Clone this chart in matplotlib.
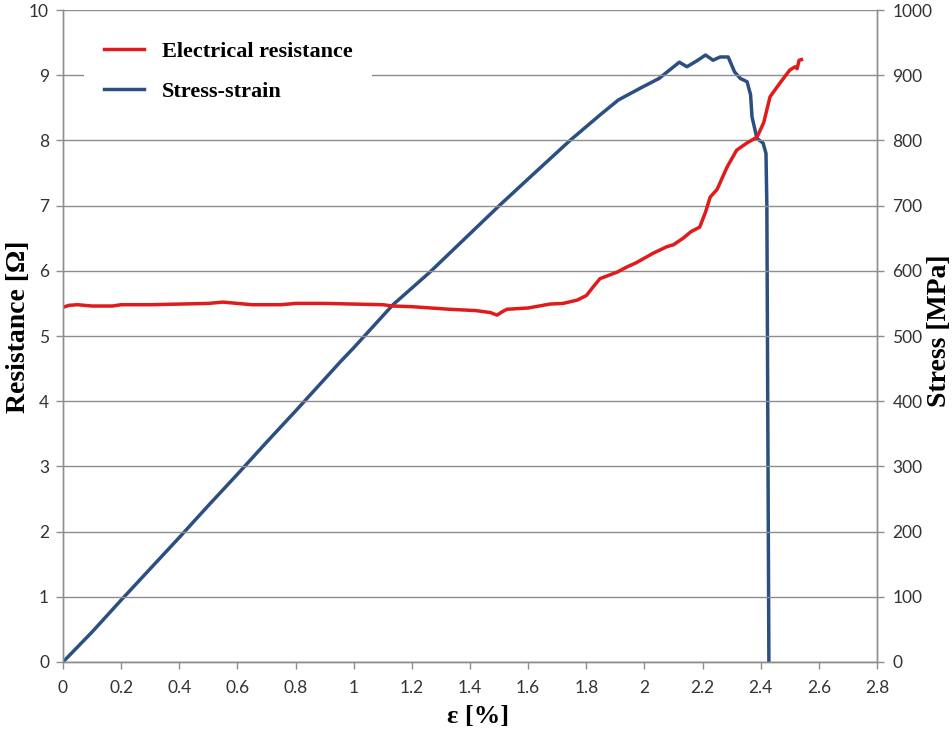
import matplotlib
matplotlib.use("Agg")
import matplotlib.pyplot as plt
from matplotlib.ticker import FormatStrFormatter, FuncFormatter

# --- data -------------------------------------------------------------------
strain_r = [0.0, 0.02, 0.05, 0.10, 0.17, 0.20, 0.30, 0.40, 0.50, 0.55, 0.60,
            0.65, 0.75, 0.80, 0.90, 1.00, 1.10, 1.135, 1.20, 1.33, 1.42, 1.47,
            1.493, 1.51, 1.527, 1.60, 1.675, 1.72, 1.768, 1.80, 1.823, 1.847,
            1.906, 1.94, 1.97, 2.03, 2.077, 2.10, 2.133, 2.16, 2.19, 2.21,
            2.226, 2.25, 2.27, 2.284, 2.317, 2.352, 2.387, 2.41, 2.432, 2.466,
            2.50, 2.518, 2.525, 2.532, 2.54]
resistance = [5.44, 5.47, 5.48, 5.46, 5.46, 5.48, 5.48, 5.49, 5.50, 5.52, 5.50,
              5.48, 5.48, 5.50, 5.50, 5.49, 5.48, 5.46, 5.45, 5.41, 5.39, 5.36,
              5.32, 5.37, 5.41, 5.43, 5.49, 5.50, 5.55, 5.62, 5.75, 5.88,
              5.98, 6.06, 6.12, 6.27, 6.37, 6.40, 6.50, 6.60, 6.67, 6.90,
              7.13, 7.25, 7.45, 7.59, 7.85, 7.96, 8.05, 8.27, 8.67, 8.88,
              9.08, 9.13, 9.10, 9.23, 9.24]

strain_s = [0.0, 0.10, 0.20, 0.30, 0.40, 0.50, 0.60, 0.70, 0.80, 0.90, 0.953,
            1.00, 1.135, 1.262, 1.40, 1.503, 1.60, 1.744, 1.847, 1.91, 1.985,
            2.05, 2.12, 2.146, 2.18, 2.21, 2.236, 2.26, 2.288, 2.31, 2.33,
            2.353, 2.365, 2.37, 2.387, 2.408, 2.418, 2.421, 2.425, 2.428]
stress = [0, 46, 95, 143, 191, 240, 288, 337, 385, 434, 460,
          482, 548, 598, 657, 701, 741, 800, 839, 862, 880,
          895, 920, 913, 922, 931, 923, 928, 928, 905, 895,
          890, 870, 836, 803, 796, 780, 700, 300, 0]

x_ticks = [0, 0.2, 0.4, 0.6, 0.8, 1, 1.2, 1.4, 1.6, 1.8, 2, 2.2, 2.4, 2.6, 2.8]
res_ticks = list(range(0, 11))
stress_ticks = list(range(0, 1001, 100))

RED = "#e01b1b"
BLUE = "#2b4f80"
GRID = "#8e8e8e"
TICK_FONT = "Lato"
LABEL_FONT = "Liberation Serif"

fig = plt.figure(figsize=(9.53, 7.38), dpi=100)
ax = fig.add_axes([0.0661, 0.103, 0.8542, 0.8834])
ax2 = ax.twinx()

ax2.plot(strain_s, stress, color=BLUE, lw=2.5, solid_joinstyle="round",
         label="Stress-strain")
ax.plot(strain_r, resistance, color=RED, lw=2.5, solid_joinstyle="round",
        label="Electrical resistance")

ax.set_zorder(ax2.get_zorder() + 1)
ax.patch.set_visible(False)

ax.set_xlim(0, 2.8)
ax.set_ylim(0, 10)
ax2.set_ylim(0, 1000)
ax.set_xticks(x_ticks)
ax.set_yticks(res_ticks)
ax2.set_yticks(stress_ticks)
ax.xaxis.set_major_formatter(FuncFormatter(lambda v, p: f"{v:g}"))
ax.yaxis.set_major_formatter(FormatStrFormatter("%d"))

ax.grid(axis="y", color=GRID, lw=1.0)
ax.set_axisbelow(True)

for a in (ax, ax2):
    a.spines["top"].set_visible(False)
    for side in ("left", "right", "bottom"):
        a.spines[side].set_color(GRID)
        a.spines[side].set_linewidth(1.0)
    a.tick_params(direction="out", length=5, width=1, color=GRID,
                  labelsize=12.5, labelcolor="#333333")
    for lab in a.get_xticklabels() + a.get_yticklabels():
        lab.set_fontfamily(TICK_FONT)
ax.tick_params(axis="x", pad=8)
ax.tick_params(axis="y", pad=5)
ax2.tick_params(axis="y", pad=6)

# axis titles placed by hand so they sit where the reference has them
fig.text(478 / 953, 1 - 716 / 738, "ε [%]", fontsize=19, fontweight="bold",
         family=LABEL_FONT, ha="center", va="center")
fig.text(19 / 953, 1 - 327 / 738, "Resistance [Ω]", fontsize=20,
         fontweight="bold", family=LABEL_FONT, rotation=90,
         ha="center", va="center")
fig.text(940 / 953, 1 - 331 / 738, "Stress [MPa]", fontsize=20,
         fontweight="bold", family=LABEL_FONT, rotation=90,
         ha="center", va="center")

h1, l1 = ax.get_legend_handles_labels()
h2, l2 = ax2.get_legend_handles_labels()
leg = ax.legend(h1 + h2, l1 + l2, loc="upper left",
                bbox_to_anchor=(0.012, 1.0), frameon=True, fancybox=False,
                facecolor="white", edgecolor="none", framealpha=1,
                prop={"family": LABEL_FONT, "weight": "bold", "size": 16},
                handlelength=1.8, handletextpad=0.8, labelspacing=0.9,
                borderpad=0.9)

fig.savefig("out.png", dpi=100)
